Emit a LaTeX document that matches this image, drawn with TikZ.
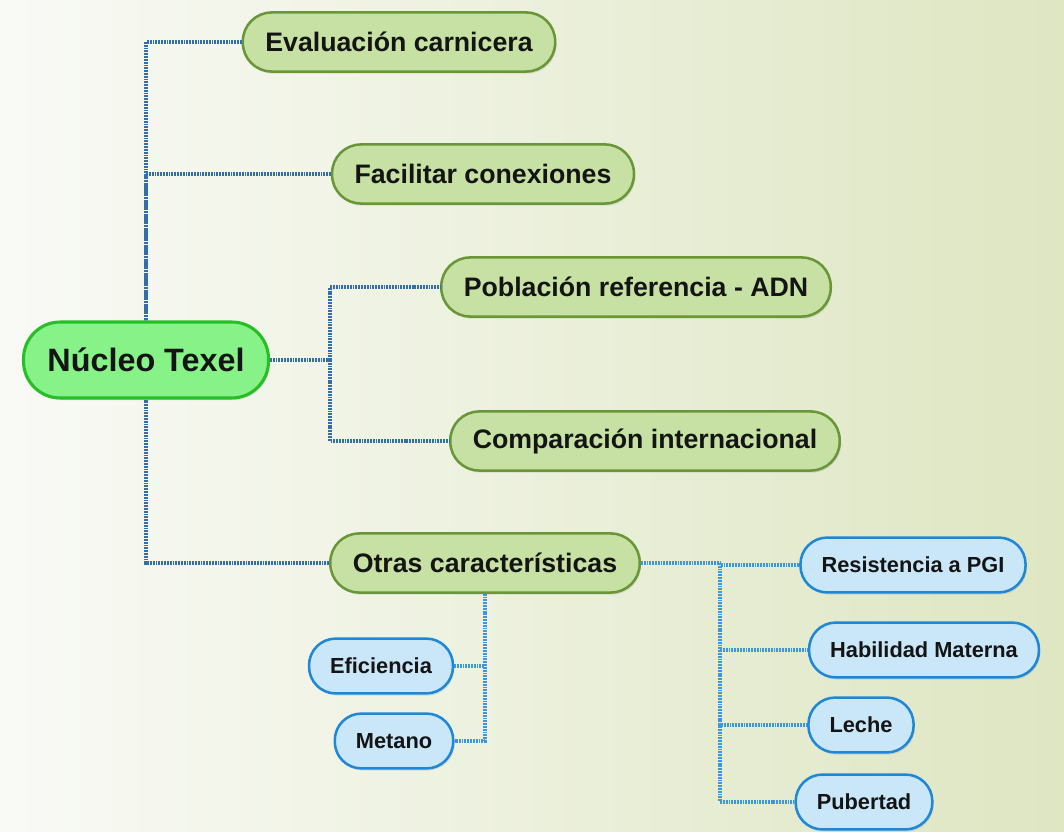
\documentclass[tikz,border=0pt]{standalone}
\usepackage{fontspec}
\setmainfont{Liberation Sans}
\usepackage{tikz}
\usetikzlibrary{positioning,calc,shadows}

\definecolor{rootfill}{RGB}{135,242,135}
\definecolor{rootline}{RGB}{40,190,40}
\definecolor{topicfill}{RGB}{198,225,163}
\definecolor{topicline}{RGB}{105,150,55}
\definecolor{subfill}{RGB}{202,231,250}
\definecolor{subline}{RGB}{30,135,215}
\definecolor{linkblue}{RGB}{50,110,170}
\definecolor{sublinkblue}{RGB}{60,150,225}
\definecolor{bgleft}{RGB}{249,250,246}
\definecolor{bgright}{RGB}{222,230,194}

\begin{document}
\begin{tikzpicture}[
    x=0.025cm, y=-0.025cm,
    every node/.style={text=black!92},
    root/.style={rectangle, draw=rootline, fill=rootfill, line width=2.2pt, rounded corners=26pt, minimum height=54pt, inner xsep=17pt, font=\fontsize{23}{27}\selectfont\bfseries, drop shadow={opacity=0.2, shadow xshift=1pt, shadow yshift=-1.5pt}},
    topic/.style={rectangle, draw=topicline, fill=topicfill, line width=1.8pt, rounded corners=20.5pt, minimum height=42pt, inner xsep=16pt, font=\fontsize{19}{23}\selectfont\bfseries, drop shadow={opacity=0.2, shadow xshift=1pt, shadow yshift=-1.5pt}},
    sub/.style={rectangle, draw=subline, fill=subfill, line width=1.8pt, rounded corners=19pt, minimum height=39pt, inner xsep=15pt, font=\fontsize{15.5}{19}\selectfont\bfseries, drop shadow={opacity=0.2, shadow xshift=1pt, shadow yshift=-1.5pt}},
    link/.style={draw=linkblue, line width=2.4pt, dash pattern=on 1.3pt off 0.7pt},
    sublink/.style={draw=sublinkblue, line width=2.4pt, dash pattern=on 1.3pt off 0.7pt}
]
    % Background
    \shade[left color=bgleft, right color=bgright] (0,0) rectangle (1064,832);
    \useasboundingbox (0,0) rectangle (1064,832);

    % Root
    \node[root] (nucleo) at (146,360) {Núcleo Texel};

    % Topics
    \node[topic] (eval) at (399,42) {Evaluación carnicera};
    \node[topic] (facil) at (483,174) {Facilitar conexiones};
    \node[topic] (pobl) at (636,287) {Población referencia - ADN};
    \node[topic] (comp) at (645,441) {Comparación internacional};
    \node[topic] (otras) at (485,563) {Otras características};

    % Other characteristics
    \node[sub] (resist) at (913,565) {Resistencia a PGI};
    \node[sub] (habil) at (924,650) {Habilidad Materna};
    \node[sub] (leche) at (861,725) {Leche};
    \node[sub] (pubert) at (864,802) {Pubertad};
    \node[sub] (efic) at (381,666) {Eficiencia};
    \node[sub] (metano) at (394,741) {Metano};

    % Junctions
    \coordinate (nj) at (330,360);
    \coordinate (oj) at (720,563);

    % Links from root
    \draw[link] (eval.west) -| (nucleo.north);
    \draw[link] (facil.west) -| (nucleo.north);
    \draw[link] (otras.west) -| (nucleo.south);
    \draw[link] (nucleo.east) -- (nj);
    \draw[link] (nj) |- (pobl.west);
    \draw[link] (nj) |- (comp.west);

    % Links from otras
    \draw[sublink] (otras.east) -- (oj);
    \draw[sublink] (oj) |- (resist.west);
    \draw[sublink] (oj) |- (habil.west);
    \draw[sublink] (oj) |- (leche.west);
    \draw[sublink] (oj) |- (pubert.west);
    \draw[sublink] (otras.south) |- (efic.east);
    \draw[sublink] (otras.south) |- (metano.east);
\end{tikzpicture}
\end{document}
